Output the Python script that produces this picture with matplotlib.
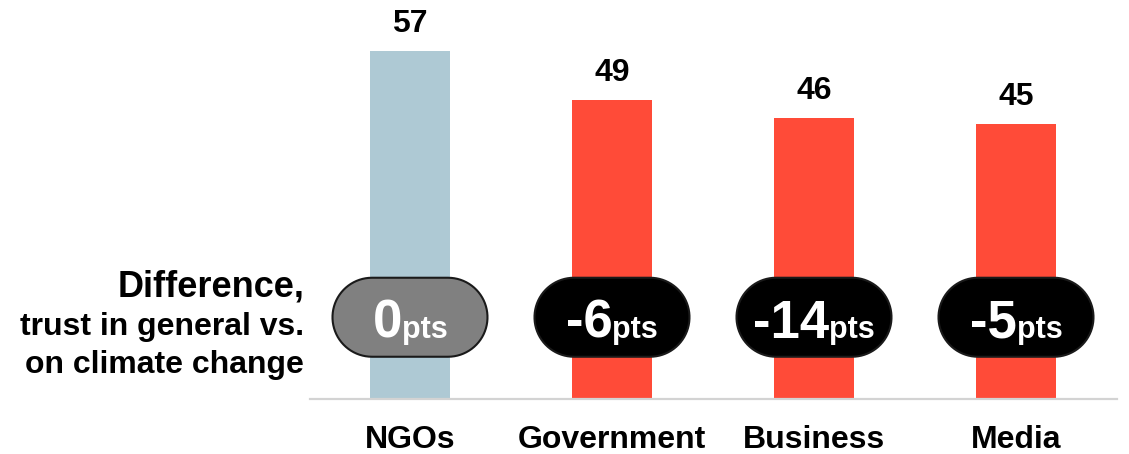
import numpy as np
import matplotlib.pyplot as plt
import matplotlib.transforms as mtransforms
from matplotlib.patches import Polygon

plt.rcParams['font.family'] = ['Liberation Sans', 'DejaVu Sans']
plt.rcParams['font.weight'] = 'bold'

# data
categories = ['NGOs', 'Government', 'Business', 'Media']
trust = [57, 49, 46, 45]
diff_pts = [0, -6, -14, -5]
bar_colors = ['#aec9d4', '#ff4b38', '#ff4b38', '#ff4b38']
pill_colors = ['#808080', '#000000', '#000000', '#000000']

W, H, DPI = 1129, 454, 100
fig = plt.figure(figsize=(W / DPI, H / DPI), dpi=DPI)
# axes placed in pixels: x 310..1117, baseline at y=399 from top
ax = fig.add_axes([310 / W, (H - 399) / H, 807 / W, 399 / H])

x = list(range(len(categories)))
ax.bar(x, trust, width=0.396, color=bar_colors, zorder=1)
ax.set_xlim(-0.495, 3.5)
ax.set_ylim(0, 65.4)

for s in ['top', 'right', 'left']:
    ax.spines[s].set_visible(False)
ax.spines['bottom'].set_color('#d3d3d3')
ax.spines['bottom'].set_linewidth(1.6)
ax.set_yticks([])
ax.set_xticks(x)
ax.set_xticklabels(categories, fontsize=23, fontweight='bold')
ax.tick_params(axis='x', length=0, pad=19)

# value labels on top of bars
for xi, v in zip(x, trust):
    ax.annotate(str(v), (xi, v), xytext=(0, 19), textcoords='offset pixels',
                ha='center', va='baseline', fontsize=23, fontweight='bold')


def pill_shape(w, h, n=40):
    # stadium outline in pixels, centred on 0,0
    r = h / 2
    a1 = np.linspace(-np.pi / 2, np.pi / 2, n)
    a2 = np.linspace(np.pi / 2, 3 * np.pi / 2, n)
    right = np.column_stack([w / 2 - r + r * np.cos(a1), r * np.sin(a1)])
    left = np.column_stack([-w / 2 + r + r * np.cos(a2), r * np.sin(a2)])
    return np.vstack([right, left])


# pills with differences
pill_y = 13.4
base_y = 10.0
pw, ph = 155, 79  # pixels
num_texts = []
for xi, d, pc in zip(x, diff_pts, pill_colors):
    tr = mtransforms.ScaledTranslation(xi, pill_y, ax.transData)
    pill = Polygon(pill_shape(pw, ph), closed=True, facecolor=pc,
                   edgecolor='#1a1a1a', linewidth=1.5, transform=tr,
                   zorder=3, clip_on=False)
    ax.add_patch(pill)
    t1 = ax.text(xi, base_y, str(d), ha='left', va='baseline', fontsize=38,
                 fontweight='bold', color='white', zorder=4)
    t2 = ax.text(xi, base_y, 'pts', ha='left', va='baseline', fontsize=22,
                 fontweight='bold', color='white', zorder=4)
    num_texts.append((t1, t2))

# center the number+pts groups on each bar
fig.canvas.draw()
r = fig.canvas.get_renderer()
for t1, t2 in num_texts:
    w1 = t1.get_window_extent(r).width
    w2 = t2.get_window_extent(r).width
    start = -(w1 + w2) / 2
    t1.set_transform(mtransforms.offset_copy(ax.transData, fig, x=start, y=0, units='dots'))
    t2.set_transform(mtransforms.offset_copy(ax.transData, fig, x=start + w1, y=0, units='dots'))

# left annotation
fig.text(304 / W, 1 - 297 / H, 'Difference,', ha='right', va='baseline',
         fontsize=26, fontweight='bold')
fig.text(304 / W, 1 - 335 / H, 'trust in general vs.', ha='right', va='baseline',
         fontsize=23, fontweight='bold')
fig.text(304 / W, 1 - 373 / H, 'on climate change', ha='right', va='baseline',
         fontsize=23, fontweight='bold')

fig.savefig('out.png', dpi=DPI)
